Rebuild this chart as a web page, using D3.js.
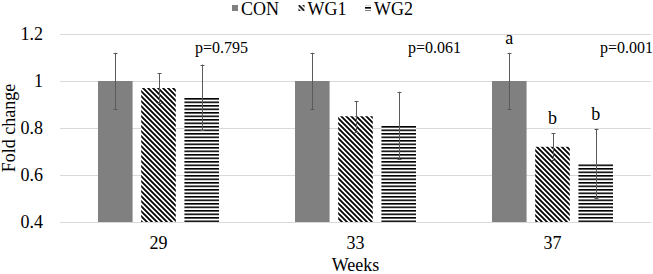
<!DOCTYPE html>
<html>
<head>
<meta charset="utf-8">
<script src="https://cdn.jsdelivr.net/npm/d3@7"></script>
</head>
<body style="margin:0; background:#fff">
<script>
const weeks = ['29', '33', '37'];
const series = ['CON', 'WG1', 'WG2'];
const con_mean = [1, 1, 1];
const con_err = [0.12, 0.12, 0.12];
const wg1_mean = [0.97, 0.85, 0.72];
const wg1_err = [0.064, 0.065, 0.057];
const wg2_mean = [0.93, 0.81, 0.65];
const wg2_err = [0.14, 0.144, 0.147];
const p_values = ['p=0.795', 'p=0.061', 'p=0.001'];
const sig_letters = [['', '', ''], ['', '', ''], ['a', 'b', 'b']];
const y_ticks = [0.4, 0.6, 0.8, 1, 1.2];

const chart_width = 653;
const chart_height = 274;
const font_name = 'Liberation Serif';

const means = [con_mean, wg1_mean, wg2_mean];
const errs = [con_err, wg1_err, wg2_err];
const fills = ['#808080', 'url(#diag)', 'url(#horiz)'];

// flat list of bars
const bars = [];
weeks.forEach((w, i) => {
    series.forEach((s, j) => {
        bars.push({ week: w, series: s, value: means[j][i], err: errs[j][i], letter: sig_letters[i][j], fill: fills[j] });
    });
});

const svg = d3.select('body')
    .append('svg')
    .attr('width', chart_width)
    .attr('height', chart_height);

// put serif font on every text
const set_font = (sel, size) => sel
    .style('font-family', `"${font_name}"`)
    .style('font-size', size + 'px')
    .attr('fill', '#000');

// Patterns
const defs = svg.append('defs');
defs.append('pattern')
    .attr('id', 'diag')
    .attr('patternUnits', 'userSpaceOnUse')
    .attr('width', 5)
    .attr('height', 5)
    .call(p => {
        p.append('rect').attr('width', 5).attr('height', 5).attr('fill', '#fff');
        p.append('path')
            .attr('d', 'M-1,-1 L6,6 M-1,4 L1,6 M4,-1 L6,1')
            .attr('stroke', '#000')
            .attr('stroke-width', 1.8);
    });
defs.append('pattern')
    .attr('id', 'horiz')
    .attr('patternUnits', 'userSpaceOnUse')
    .attr('width', 6)
    .attr('height', 3.5)
    .call(p => {
        p.append('rect').attr('width', 6).attr('height', 3.5).attr('fill', '#fff');
        p.append('rect').attr('y', 0).attr('width', 6).attr('height', 1.6).attr('fill', '#000');
    });

// Scales
const x0 = d3.scaleBand()
    .domain(weeks)
    .range([60, 651]);

const x1 = d3.scaleBand()
    .domain(series)
    .range([0, x0.bandwidth()])
    .paddingInner(0.2)
    .paddingOuter(0.88);

const y = d3.scaleLinear()
    .domain([0.4, 1.2])
    .range([222, 34]);

// Gridlines
svg.append('g')
    .selectAll('line')
    .data(y_ticks)
    .enter()
    .append('line')
    .attr('x1', 60)
    .attr('x2', 651)
    .attr('y1', d => Math.round(y(d)) + 0.5)
    .attr('y2', d => Math.round(y(d)) + 0.5)
    .attr('stroke', '#d9d9d9')
    .attr('stroke-width', 1);

// Y axis labels
const y_axis = d3.axisLeft(y)
    .tickValues(y_ticks)
    .tickFormat(d => d3.format('')(d))
    .tickSize(0)
    .tickPadding(17);

const y_g = svg.append('g')
    .attr('transform', 'translate(60, 0)')
    .call(y_axis);
y_g.attr('font-family', font_name).attr('font-size', 18);
y_g.select('.domain').remove();
set_font(y_g.selectAll('text'), 18);

// X axis labels
const x_axis = d3.axisBottom(x0).tickSize(0).tickPadding(14);
const x_g = svg.append('g')
    .attr('transform', 'translate(0, 222)')
    .call(x_axis);
x_g.attr('font-family', font_name).attr('font-size', 18);
x_g.select('.domain').remove();
set_font(x_g.selectAll('text'), 18);

// Bars
const bx = d => x0(d.week) + x1(d.series);
svg.append('g')
    .selectAll('rect')
    .data(bars)
    .enter()
    .append('rect')
    .attr('x', bx)
    .attr('y', d => y(d.value))
    .attr('width', x1.bandwidth())
    .attr('height', d => y(0.4) - y(d.value))
    .attr('fill', d => d.fill);

// Error bars
const eb = svg.append('g')
    .attr('stroke', '#5a5a5a')
    .attr('stroke-width', 1)
    .selectAll('g')
    .data(bars)
    .enter()
    .append('g')
    .attr('transform', d => `translate(${Math.round(bx(d) + x1.bandwidth() / 2) + 0.5}, 0)`);
eb.append('line')
    .attr('y1', d => y(d.value + d.err))
    .attr('y2', d => y(d.value - d.err));
eb.append('line')
    .attr('x1', -2).attr('x2', 2)
    .attr('y1', d => Math.round(y(d.value + d.err)) + 0.5)
    .attr('y2', d => Math.round(y(d.value + d.err)) + 0.5);
eb.append('line')
    .attr('x1', -2).attr('x2', 2)
    .attr('y1', d => Math.round(y(d.value - d.err)) + 0.5)
    .attr('y2', d => Math.round(y(d.value - d.err)) + 0.5);

// Significance letters
svg.append('g')
    .selectAll('text')
    .data(bars.filter(d => d.letter))
    .enter()
    .append('text')
    .attr('x', d => bx(d) + x1.bandwidth() / 2)
    .attr('y', d => y(d.value + d.err) - 9)
    .attr('text-anchor', 'middle')
    .call(set_font, 18)
    .text(d => d.letter);

// p-values
const p_offsets = [135, 151, 146];
svg.append('g')
    .selectAll('text')
    .data(p_values)
    .enter()
    .append('text')
    .attr('x', (d, i) => x0(weeks[i]) + p_offsets[i])
    .attr('y', 53)
    .call(set_font, 16)
    .text(d => d);

// Axis titles
svg.append('text')
    .attr('x', 355.5)
    .attr('y', 271)
    .attr('text-anchor', 'middle')
    .call(set_font, 18)
    .text('Weeks');

svg.append('text')
    .attr('transform', 'translate(15, 128) rotate(-90)')
    .attr('text-anchor', 'middle')
    .call(set_font, 18)
    .text('Fold change');

// Legend
const legend = svg.append('g')
    .selectAll('g')
    .data(series)
    .enter()
    .append('g')
    .attr('transform', (d, i) => `translate(${232 + i * 66.5}, 0)`);
legend.append('rect')
    .attr('x', 0)
    .attr('y', 5)
    .attr('width', 6)
    .attr('height', 6)
    .attr('fill', (d, i) => fills[i]);
legend.append('text')
    .attr('x', 9)
    .attr('y', 15)
    .call(set_font, 18)
    .text(d => d);
</script>
</body>
</html>
